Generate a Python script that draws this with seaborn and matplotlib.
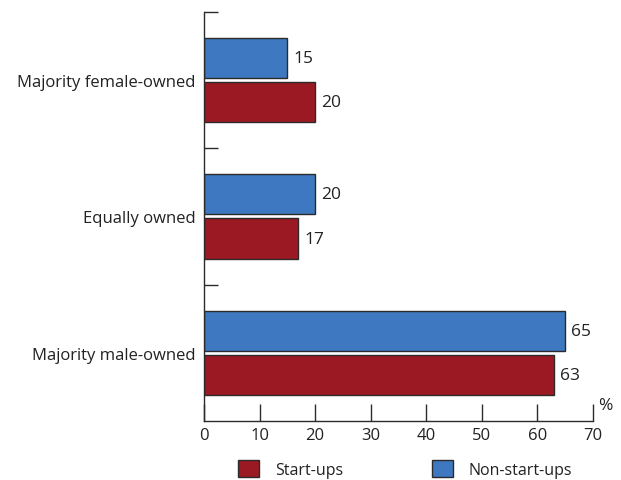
import matplotlib
matplotlib.use("Agg")
import matplotlib.pyplot as plt
from matplotlib.patches import Patch
import seaborn as sns
import pandas as pd

categories = ["Majority female-owned", "Equally owned", "Majority male-owned"]
non_start_ups = [15, 20, 65]
start_ups = [20, 17, 63]
series = ["Non-start-ups", "Start-ups"]
x_ticks = [0, 10, 20, 30, 40, 50, 60, 70]

colors = {"Non-start-ups": "#3d78c0", "Start-ups": "#9b1923"}
text_color = "#222222"
edge = "#2b2b2b"
fs = 12

sns.set_theme(style="white")
plt.rcParams["font.family"] = ["Open Sans", "DejaVu Sans"]

df = pd.DataFrame({
    "category": categories * 2,
    "series": [series[0]] * len(categories) + [series[1]] * len(categories),
    "value": non_start_ups + start_ups,
})

fig = plt.figure(figsize=(6.21, 4.81), dpi=100)
ax = fig.add_axes([0.3285, 0.1227, 0.6265, 0.8503])

sns.barplot(
    data=df, x="value", y="category", hue="series",
    order=categories, hue_order=series, palette=colors, saturation=1,
    orient="h", width=0.65, gap=0.09, edgecolor=edge, linewidth=1.0,
    ax=ax, legend=False,
)

for cont in ax.containers:
    ax.bar_label(cont, fmt="%d", padding=4, fontsize=12.5, color=text_color)

ax.set_xlim(0, 70)
ax.set_ylim(2.5, -0.5)
ax.set_xticks(x_ticks)
ax.set_xlabel("")
ax.set_ylabel("")

for s in ["top", "right"]:
    ax.spines[s].set_visible(False)
for s in ["left", "bottom"]:
    ax.spines[s].set_color(edge)
    ax.spines[s].set_linewidth(1.0)

ax.tick_params(axis="x", direction="in", length=12, width=1.0, color=edge,
               labelsize=fs, labelcolor=text_color, pad=4, bottom=True)
ax.tick_params(axis="y", which="major", length=0, labelsize=fs,
               labelcolor=text_color, pad=6)
ax.set_yticks([-0.5, 0.5, 1.5], minor=True)
ax.tick_params(axis="y", which="minor", direction="in", length=10, width=1.0,
               color=edge, left=True)

ax.text(1.014, 0.02, "%", transform=ax.transAxes, fontsize=12.5,
        color=text_color, ha="left", va="bottom")

handles = [Patch(facecolor=colors["Start-ups"], edgecolor=edge, label="Start-ups"),
           Patch(facecolor=colors["Non-start-ups"], edgecolor=edge, label="Non-start-ups")]
fig.legend(handles=handles, loc="lower left", bbox_to_anchor=(0.36, -0.025),
           ncol=2, frameon=False, fontsize=11.5, handlelength=1.3, handleheight=1.3,
           handletextpad=1.0, columnspacing=5.6, labelcolor=text_color)

fig.savefig("out.png", dpi=100, facecolor="white")
